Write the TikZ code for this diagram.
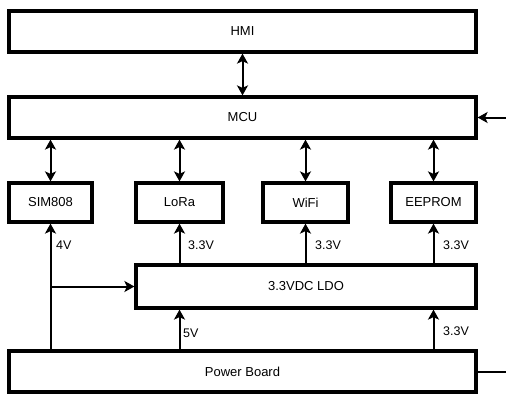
\documentclass[tikz,border=0pt]{standalone}
\usepackage{fontspec}
\setmainfont{Liberation Sans}
\usetikzlibrary{arrows.meta}

\begin{document}
\begin{tikzpicture}[x=1pt, y=-1pt,
    box/.style={draw, line width=3.2pt, inner sep=0pt, font=\fontsize{13}{15}\selectfont},
    lbl/.style={anchor=west, inner sep=0pt, font=\fontsize{12.5}{14}\selectfont},
    arr/.style={line width=2pt, -{Stealth[length=10pt, width=11pt, inset=2.5pt]}},
    biarr/.style={line width=2pt, {Stealth[length=10pt, width=11pt, inset=2.5pt]}-{Stealth[length=10pt, width=11pt, inset=2.5pt]}}]
    \useasboundingbox (0,0) rectangle (506,394);

    \node[box, minimum width=467pt, minimum height=41pt] (hmi) at (242.5, 31.5) {HMI};
    \node[box, minimum width=467pt, minimum height=41pt] (mcu) at (242.5, 117.5) {MCU};

    \foreach \n/\x/\w/\t in {sim/50.5/83/SIM808, lora/179.5/87/LoRa, wifi/305.5/85/WiFi, eeprom/433.5/85/EEPROM} {
        \node[box, minimum width=\w pt, minimum height=39pt] (\n) at (\x, 202.5) {\t};
    }

    \node[box, minimum width=340pt, minimum height=43pt] (ldo) at (306, 286.5) {3.3VDC LDO};
    \node[box, minimum width=467pt, minimum height=41pt] (pwr) at (242.5, 371.5) {Power Board};

    \draw[biarr] (hmi.south) -- (mcu.north);
    \foreach \n in {sim, lora, wifi, eeprom} {
        \draw[biarr] (\n.north) -- (\n.north |- mcu.south);
    }

    \foreach \n in {lora, wifi, eeprom} {
        \draw[arr] (\n.south |- ldo.north) -- (\n.south);
    }
    \draw[arr] (sim.south |- pwr.north) -- (sim.south);
    \coordinate (split) at (sim.south |- ldo.west);
    \draw[arr] (split) -- (ldo.west);
    \draw[arr] (lora.south |- pwr.north) -- (lora.south |- ldo.south);
    \draw[arr] (eeprom.south |- pwr.north) -- (eeprom.south |- ldo.south);

    \coordinate (ext) at (506, 117.5);
    \draw[arr] (ext) -- (mcu.east);
    \coordinate (pout) at (506, 371.5);
    \draw[line width=2pt] (pwr.east) -- (pout);

    \node[lbl] (v4) at (56, 245) {4V};
    \node[lbl] (vlora) at (188, 245) {3.3V};
    \node[lbl] (vwifi) at (315, 245) {3.3V};
    \node[lbl] (veeprom) at (443, 245) {3.3V};
    \node[lbl] (v5) at (183, 333) {5V};
    \node[lbl] (vpwr) at (443, 331) {3.3V};
\end{tikzpicture}
\end{document}
